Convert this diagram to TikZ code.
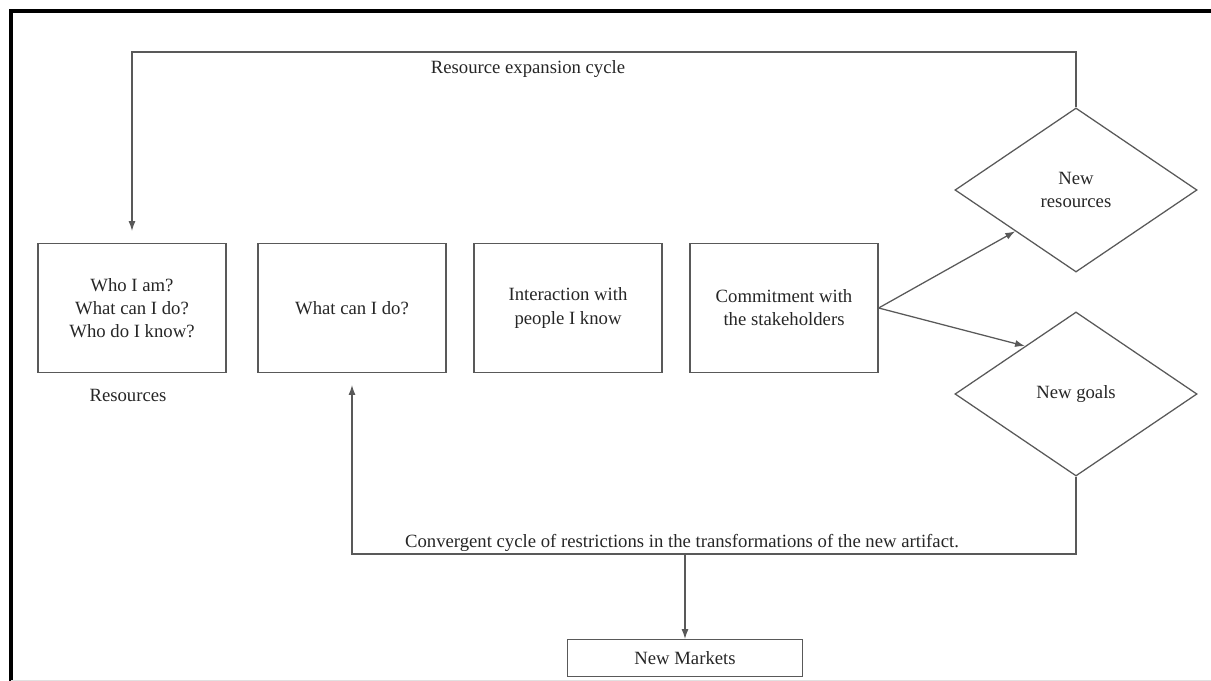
\documentclass[tikz,border=0pt]{standalone}
\usepackage{fontspec}
\setmainfont{Liberation Serif}
\usetikzlibrary{shapes.geometric,calc,arrows.meta}
\begin{document}
\begin{tikzpicture}[x=0.025cm,y=-0.025cm,>={Latex[length=7pt,width=5pt]},
        font=\fontsize{13.3}{16.5}\selectfont,
        color=black!65, line width=0.9pt,
        every node/.style={text=black!85},
        box/.style={draw, minimum width=4.7cm, minimum height=3.22cm, align=center},
        dia/.style={draw, diamond, minimum width=6.05cm, minimum height=4.1cm, inner sep=0pt, align=center}]
        \useasboundingbox (0,0) rectangle (1211,681);
        \draw[black, line width=2.2pt] (11,681) -- (11,11) -- (1211,11);
        \draw[black!12, line width=0.6pt] (11,680) -- (1211,680);
        \node[box] (res) at (132,308) {Who I am?\\What can I do?\\Who do I know?};
        \node[box] (can) at (352,308) {What can I do?};
        \node[box] (inter) at (568,308) {Interaction with\\people I know};
        \node[box] (comm) at (784,308) {Commitment with\\the stakeholders};
        \node[dia] (nres) at (1076,190) {New\\resources};
        \node[dia] (ngoal) at (1076,394) {New goals};
        \node[draw, minimum width=5.87cm, minimum height=0.92cm] (mkt) at (685,658) {New Markets};
        \node (rlab) at (128,395) {Resources};
        \draw[->] (comm.east) -- (nres.south west);
        \draw[->] (comm.east) -- ($(ngoal.west)!0.58!(ngoal.north)$);
        % resource expansion cycle
        \coordinate (tl) at (132,52);
        \draw[->] (nres.north) |- (tl) -- ([yshift=0.3cm]res.north);
        \node (rexp) at (528,69) {Resource expansion cycle};
        % convergent cycle
        \coordinate (bl) at (352,554);
        \coordinate (split) at (685,554);
        \draw[->] (ngoal.south) |- (bl) -- ([yshift=-0.3cm]can.south);
        \draw[->] (split) -- (mkt);
        \node (conv) at (682,543) {Convergent cycle of restrictions in the transformations of the new artifact.};
    \end{tikzpicture}
\end{document}
